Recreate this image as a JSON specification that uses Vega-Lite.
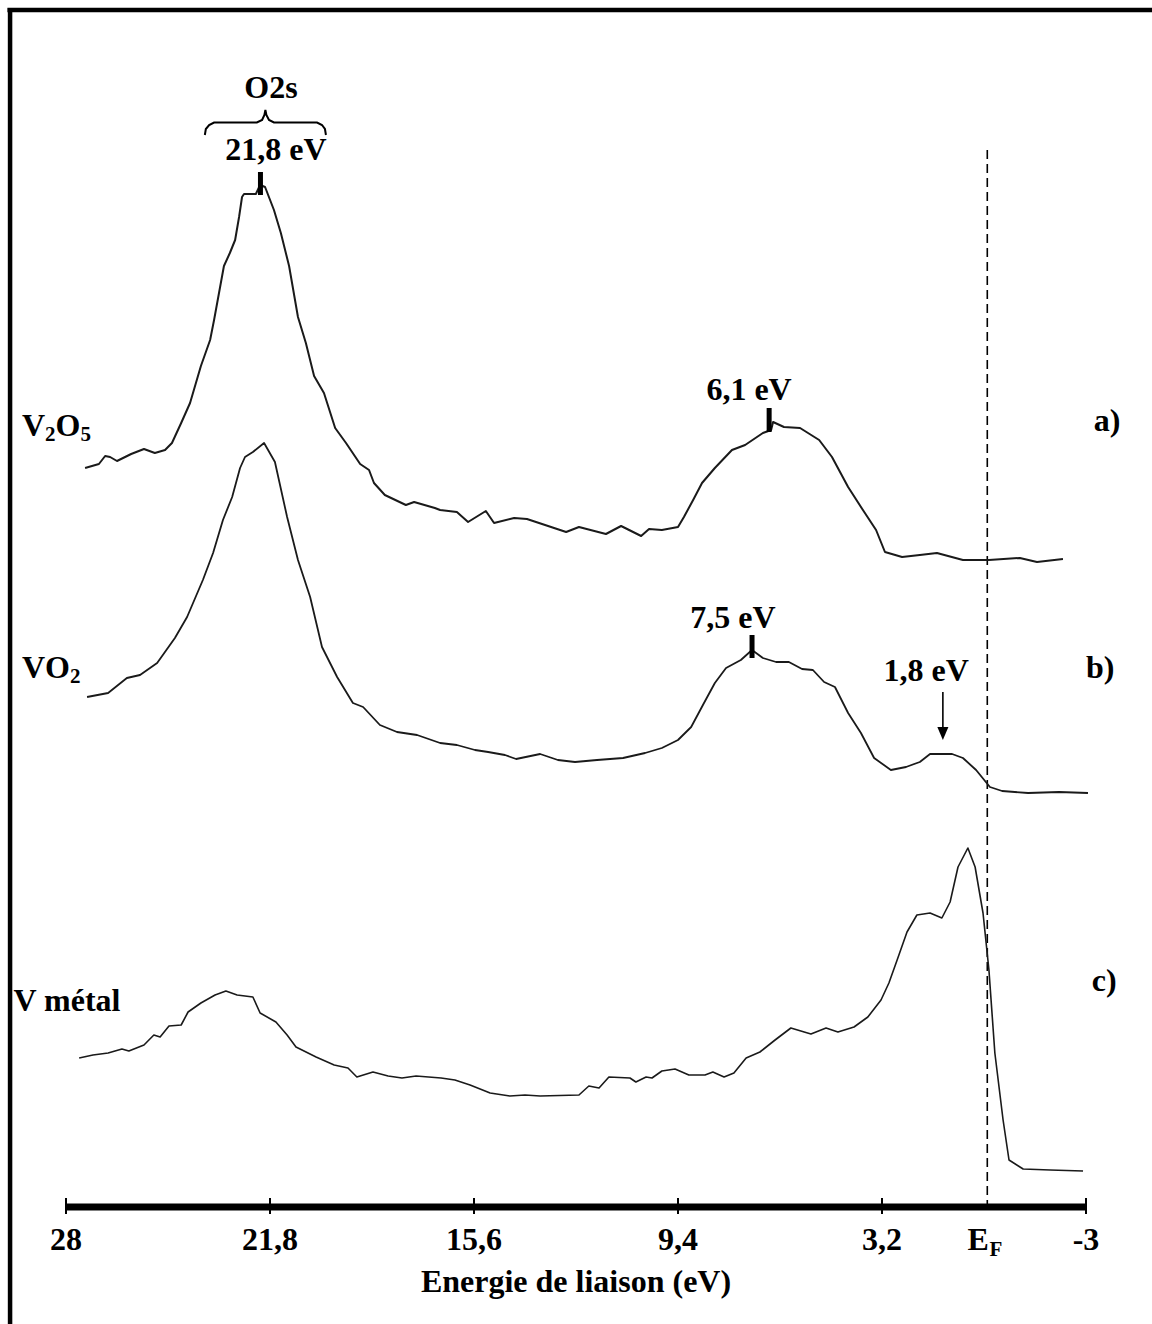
{
  "$schema": "https://vega.github.io/schema/vega-lite/v6.json",
  "width": 1020,
  "height": 1196,
  "autosize": {"type": "none"},
  "padding": {"left": 66, "right": 66, "top": 10, "bottom": 118},
  "background": "white",
  "config": {"view": {"stroke": null}},
  "datasets": {
    "spectra": [
      {"series":"a","E":27.42,"I":738},{"series":"a","E":27.00,"I":742},{"series":"a","E":26.81,"I":750},{"series":"a","E":26.66,"I":749},{"series":"a","E":26.45,"I":745},{"series":"a","E":26.02,"I":752},{"series":"a","E":25.63,"I":757},{"series":"a","E":25.30,"I":753},{"series":"a","E":24.99,"I":756},{"series":"a","E":24.78,"I":763},{"series":"a","E":24.50,"I":783},{"series":"a","E":24.23,"I":803},{"series":"a","E":23.90,"I":840},{"series":"a","E":23.62,"I":866},{"series":"a","E":23.50,"I":886},{"series":"a","E":23.35,"I":913},{"series":"a","E":23.20,"I":940},{"series":"a","E":23.02,"I":953},{"series":"a","E":22.86,"I":966},{"series":"a","E":22.74,"I":989},{"series":"a","E":22.65,"I":1009},{"series":"a","E":22.59,"I":1012},{"series":"a","E":22.23,"I":1012},{"series":"a","E":22.10,"I":1021},{"series":"a","E":21.95,"I":1019},{"series":"a","E":21.68,"I":996},{"series":"a","E":21.47,"I":973},{"series":"a","E":21.22,"I":940},{"series":"a","E":20.95,"I":889},{"series":"a","E":20.71,"I":863},{"series":"a","E":20.46,"I":830},{"series":"a","E":20.16,"I":813},{"series":"a","E":19.82,"I":778},{"series":"a","E":19.49,"I":763},{"series":"a","E":19.06,"I":742},{"series":"a","E":18.79,"I":736},{"series":"a","E":18.64,"I":723},{"series":"a","E":18.31,"I":711},{"series":"a","E":17.67,"I":701},{"series":"a","E":17.42,"I":704},{"series":"a","E":16.79,"I":698},{"series":"a","E":16.63,"I":696},{"series":"a","E":16.12,"I":694},{"series":"a","E":15.78,"I":684},{"series":"a","E":15.24,"I":695},{"series":"a","E":14.99,"I":683},{"series":"a","E":14.38,"I":688},{"series":"a","E":13.99,"I":687},{"series":"a","E":13.44,"I":681},{"series":"a","E":12.80,"I":674},{"series":"a","E":12.41,"I":679},{"series":"a","E":11.59,"I":672},{"series":"a","E":11.13,"I":680},{"series":"a","E":10.52,"I":670},{"series":"a","E":10.28,"I":677},{"series":"a","E":9.89,"I":676},{"series":"a","E":9.40,"I":679},{"series":"a","E":9.22,"I":689},{"series":"a","E":8.94,"I":706},{"series":"a","E":8.67,"I":723},{"series":"a","E":8.28,"I":738},{"series":"a","E":7.76,"I":756},{"series":"a","E":7.36,"I":761},{"series":"a","E":6.82,"I":773},{"series":"a","E":6.57,"I":776},{"series":"a","E":6.51,"I":784},{"series":"a","E":6.18,"I":779},{"series":"a","E":5.69,"I":778},{"series":"a","E":5.11,"I":766},{"series":"a","E":4.72,"I":749},{"series":"a","E":4.23,"I":719},{"series":"a","E":3.78,"I":696},{"series":"a","E":3.38,"I":676},{"series":"a","E":3.11,"I":654},{"series":"a","E":2.59,"I":649},{"series":"a","E":2.05,"I":651},{"series":"a","E":1.53,"I":653},{"series":"a","E":0.74,"I":646},{"series":"a","E":-0.05,"I":646},{"series":"a","E":-0.99,"I":648},{"series":"a","E":-1.51,"I":644},{"series":"a","E":-2.30,"I":647},
      {"series":"b","E":27.36,"I":509},{"series":"b","E":26.72,"I":513},{"series":"b","E":26.15,"I":528},{"series":"b","E":25.75,"I":531},{"series":"b","E":25.23,"I":543},{"series":"b","E":24.69,"I":568},{"series":"b","E":24.32,"I":589},{"series":"b","E":23.84,"I":626},{"series":"b","E":23.53,"I":653},{"series":"b","E":23.23,"I":686},{"series":"b","E":22.95,"I":709},{"series":"b","E":22.71,"I":738},{"series":"b","E":22.56,"I":749},{"series":"b","E":22.32,"I":754},{"series":"b","E":21.98,"I":763},{"series":"b","E":21.65,"I":744},{"series":"b","E":21.28,"I":689},{"series":"b","E":20.95,"I":646},{"series":"b","E":20.58,"I":609},{"series":"b","E":20.22,"I":559},{"series":"b","E":19.76,"I":529},{"series":"b","E":19.28,"I":503},{"series":"b","E":18.97,"I":499},{"series":"b","E":18.46,"I":481},{"series":"b","E":17.94,"I":474},{"series":"b","E":17.33,"I":471},{"series":"b","E":16.63,"I":463},{"series":"b","E":16.12,"I":461},{"series":"b","E":15.57,"I":456},{"series":"b","E":15.17,"I":454},{"series":"b","E":14.66,"I":451},{"series":"b","E":14.32,"I":447},{"series":"b","E":13.59,"I":452},{"series":"b","E":13.05,"I":446},{"series":"b","E":12.53,"I":444},{"series":"b","E":11.86,"I":446},{"series":"b","E":11.07,"I":448},{"series":"b","E":10.40,"I":453},{"series":"b","E":9.89,"I":458},{"series":"b","E":9.40,"I":466},{"series":"b","E":9.00,"I":479},{"series":"b","E":8.61,"I":503},{"series":"b","E":8.28,"I":523},{"series":"b","E":7.94,"I":538},{"series":"b","E":7.49,"I":546},{"series":"b","E":7.15,"I":556},{"series":"b","E":6.82,"I":548},{"series":"b","E":6.42,"I":544},{"series":"b","E":6.03,"I":544},{"series":"b","E":5.63,"I":537},{"series":"b","E":5.30,"I":536},{"series":"b","E":4.96,"I":524},{"series":"b","E":4.63,"I":519},{"series":"b","E":4.23,"I":493},{"series":"b","E":3.84,"I":473},{"series":"b","E":3.44,"I":448},{"series":"b","E":2.93,"I":436},{"series":"b","E":2.47,"I":439},{"series":"b","E":2.05,"I":444},{"series":"b","E":1.74,"I":452},{"series":"b","E":1.07,"I":452},{"series":"b","E":0.74,"I":448},{"series":"b","E":0.34,"I":436},{"series":"b","E":-0.08,"I":419},{"series":"b","E":-0.45,"I":415},{"series":"b","E":-1.24,"I":413},{"series":"b","E":-2.18,"I":414},{"series":"b","E":-3.06,"I":413},
      {"series":"c","E":27.60,"I":148},{"series":"c","E":27.18,"I":151},{"series":"c","E":26.72,"I":153},{"series":"c","E":26.30,"I":157},{"series":"c","E":26.09,"I":155},{"series":"c","E":25.63,"I":161},{"series":"c","E":25.33,"I":171},{"series":"c","E":25.14,"I":169},{"series":"c","E":24.87,"I":180},{"series":"c","E":24.50,"I":181},{"series":"c","E":24.29,"I":194},{"series":"c","E":23.90,"I":203},{"series":"c","E":23.47,"I":211},{"series":"c","E":23.14,"I":215},{"series":"c","E":22.80,"I":211},{"series":"c","E":22.32,"I":209},{"series":"c","E":22.10,"I":193},{"series":"c","E":21.62,"I":184},{"series":"c","E":21.28,"I":171},{"series":"c","E":21.01,"I":159},{"series":"c","E":20.40,"I":149},{"series":"c","E":19.85,"I":141},{"series":"c","E":19.43,"I":138},{"series":"c","E":19.16,"I":129},{"series":"c","E":18.67,"I":134},{"series":"c","E":18.21,"I":130},{"series":"c","E":17.79,"I":128},{"series":"c","E":17.36,"I":130},{"series":"c","E":16.60,"I":128},{"series":"c","E":16.18,"I":126},{"series":"c","E":15.72,"I":121},{"series":"c","E":15.11,"I":113},{"series":"c","E":14.51,"I":110},{"series":"c","E":14.05,"I":111},{"series":"c","E":13.59,"I":110},{"series":"c","E":12.41,"I":111},{"series":"c","E":12.11,"I":120},{"series":"c","E":11.80,"I":118},{"series":"c","E":11.50,"I":129},{"series":"c","E":10.86,"I":128},{"series":"c","E":10.68,"I":124},{"series":"c","E":10.37,"I":129},{"series":"c","E":10.19,"I":128},{"series":"c","E":9.89,"I":135},{"series":"c","E":9.49,"I":137},{"series":"c","E":9.07,"I":131},{"series":"c","E":8.58,"I":131},{"series":"c","E":8.34,"I":134},{"series":"c","E":8.00,"I":129},{"series":"c","E":7.70,"I":133},{"series":"c","E":7.33,"I":148},{"series":"c","E":6.91,"I":154},{"series":"c","E":6.45,"I":166},{"series":"c","E":5.97,"I":178},{"series":"c","E":5.36,"I":172},{"series":"c","E":4.90,"I":178},{"series":"c","E":4.54,"I":174},{"series":"c","E":4.05,"I":179},{"series":"c","E":3.63,"I":189},{"series":"c","E":3.23,"I":206},{"series":"c","E":2.99,"I":223},{"series":"c","E":2.74,"I":246},{"series":"c","E":2.44,"I":274},{"series":"c","E":2.14,"I":291},{"series":"c","E":1.74,"I":293},{"series":"c","E":1.38,"I":288},{"series":"c","E":1.13,"I":304},{"series":"c","E":0.89,"I":339},{"series":"c","E":0.59,"I":358},{"series":"c","E":0.37,"I":339},{"series":"c","E":0.13,"I":293},{"series":"c","E":-0.05,"I":236},{"series":"c","E":-0.23,"I":153},{"series":"c","E":-0.48,"I":86},{"series":"c","E":-0.66,"I":46},{"series":"c","E":-1.09,"I":37},{"series":"c","E":-1.91,"I":36},{"series":"c","E":-2.91,"I":35}
    ],
    "brace": [
      {"E":23.78,"I":1071},{"E":23.75,"I":1077},{"E":23.65,"I":1081},{"E":23.50,"I":1083.5},{"E":22.20,"I":1083.5},{"E":22.04,"I":1086},{"E":21.97,"I":1091},{"E":21.94,"I":1096},{"E":21.91,"I":1091},{"E":21.83,"I":1086},{"E":21.68,"I":1083.5},{"E":20.37,"I":1083.5},{"E":20.22,"I":1081},{"E":20.13,"I":1077},{"E":20.10,"I":1071}
    ],
    "frame": [
      {"E":29.70,"E2":29.70,"I":-118,"I2":1198},
      {"E":29.78,"E2":-5.1,"I":1196,"I2":1196}
    ],
    "fermi": [{"E":0,"I":1056,"I2":0}],
    "axisline": [{"E":28,"E2":-3,"I":-1,"I2":-1}],
    "ticks": [
      {"E":28,"I":8,"I2":-8},{"E":21.8,"I":8,"I2":-8},{"E":15.6,"I":8,"I2":-8},{"E":9.4,"I":8,"I2":-8},{"E":3.2,"I":8,"I2":-8},{"E":-3,"I":8,"I2":-8}
    ],
    "markers": [
      {"E":22.09,"I":1034,"I2":1011},
      {"E":6.63,"I":798,"I2":774},
      {"E":7.15,"I":571,"I2":548}
    ],
    "arrow": [{"E":1.35,"I":514,"I2":476}],
    "arrowhead": [{"E":1.35,"I":472.5}],
    "labels": [
      {"E":21.77,"I":1108,"text":"O2s"},
      {"E":21.62,"I":1046,"text":"21,8 eV"},
      {"E":7.24,"I":806,"text":"6,1 eV"},
      {"E":7.73,"I":578,"text":"7,5 eV"},
      {"E":1.86,"I":525,"text":"1,8 eV"},
      {"E":-3.64,"I":775,"text":"a)"},
      {"E":-3.43,"I":528,"text":"b)"},
      {"E":-3.55,"I":215,"text":"c)"},
      {"E":27.97,"I":195,"text":"V métal"},
      {"E":28.99,"I":770,"text":"V"},
      {"E":27.94,"I":770,"text":"O"},
      {"E":28.99,"I":528,"text":"V"},
      {"E":28.26,"I":528,"text":"O"},
      {"E":28,"I":-44,"text":"28"},
      {"E":21.8,"I":-44,"text":"21,8"},
      {"E":15.6,"I":-44,"text":"15,6"},
      {"E":9.4,"I":-44,"text":"9,4"},
      {"E":3.2,"I":-44,"text":"3,2"},
      {"E":0.28,"I":-44,"text":"E"},
      {"E":-3,"I":-44,"text":"-3"},
      {"E":12.5,"I":-86,"text":"Energie de liaison (eV)"}
    ],
    "subs": [
      {"E":28.48,"I":765,"text":"2"},
      {"E":27.40,"I":765,"text":"5"},
      {"E":27.72,"I":523,"text":"2"},
      {"E":-0.26,"I":-50,"text":"F"}
    ]
  },
  "encoding": {
    "x": {"field": "E", "type": "quantitative", "scale": {"domain": [-3, 28], "reverse": true, "nice": false, "zero": false}, "axis": null},
    "y": {"field": "I", "type": "quantitative", "scale": {"domain": [0, 1196], "nice": false, "zero": false}, "axis": null}
  },
  "layer": [
    {
      "data": {"name": "frame"},
      "mark": {"type": "rule", "color": "black", "strokeWidth": 4.5},
      "encoding": {"x2": {"field": "E2"}, "y2": {"field": "I2"}}
    },
    {
      "data": {"name": "fermi"},
      "mark": {"type": "rule", "color": "black", "strokeWidth": 1.6, "strokeDash": [9, 5]},
      "encoding": {"y2": {"field": "I2"}}
    },
    {
      "data": {"name": "spectra"},
      "mark": {"type": "line", "color": "#1a1a1a", "strokeJoin": "round"},
      "encoding": {
        "detail": {"field": "series", "type": "nominal"},
        "strokeWidth": {"field": "series", "type": "nominal", "scale": {"domain": ["a", "b", "c"], "range": [2.0, 1.6, 2.6]}, "legend": null}
      }
    },
    {
      "data": {"name": "axisline"},
      "mark": {"type": "rule", "color": "black", "strokeWidth": 7},
      "encoding": {"x2": {"field": "E2"}}
    },
    {
      "data": {"name": "ticks"},
      "mark": {"type": "rule", "color": "black", "strokeWidth": 2},
      "encoding": {"y2": {"field": "I2"}}
    },
    {
      "data": {"name": "markers"},
      "mark": {"type": "rule", "color": "black", "strokeWidth": 5},
      "encoding": {"y2": {"field": "I2"}}
    },
    {
      "data": {"name": "arrow"},
      "mark": {"type": "rule", "color": "black", "strokeWidth": 1.6},
      "encoding": {"y2": {"field": "I2"}}
    },
    {
      "data": {"name": "arrowhead"},
      "mark": {"type": "point", "shape": "M-0.85,-1L0.85,-1L0,1Z", "size": 169, "filled": true, "color": "black", "opacity": 1, "strokeWidth": 0}
    },
    {
      "data": {"name": "brace"},
      "mark": {"type": "line", "color": "black", "strokeWidth": 2},
      "encoding": {"order": {"field": "E", "type": "quantitative"}}
    },
    {
      "data": {"name": "labels"},
      "mark": {"type": "text", "font": "Liberation Serif", "fontWeight": "bold", "fontSize": 32, "align": "center", "baseline": "alphabetic", "color": "black"},
      "encoding": {"text": {"field": "text", "type": "nominal"}}
    },
    {
      "data": {"name": "subs"},
      "mark": {"type": "text", "font": "Liberation Serif", "fontWeight": "bold", "fontSize": 21, "align": "center", "baseline": "alphabetic", "color": "black"},
      "encoding": {"text": {"field": "text", "type": "nominal"}}
    }
  ]
}
